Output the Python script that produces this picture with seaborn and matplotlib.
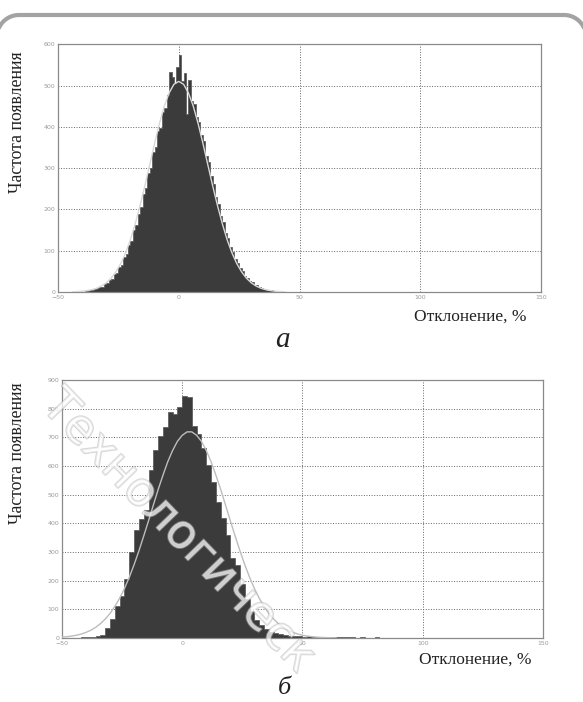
import numpy as np
import pandas as pd
import matplotlib
matplotlib.use('Agg')
import matplotlib.pyplot as plt
import matplotlib.patheffects as pe
import seaborn as sns

# --- dati ---
# grafico a: istogramma con classi di 1 %, da -45 a 50
top_edges = list(range(-45, 51, 1))
top_counts = [0, 0, 1, 0, 2, 1, 3, 2, 6, 4,
              8, 9, 13, 12, 19, 21, 30, 31, 44, 47,
              60, 66, 84, 92, 113, 124, 150, 162, 190, 205,
              238, 252, 287, 301, 340, 352, 390, 398, 436, 446,
              478, 533, 520, 505, 545, 575, 512, 530, 432, 513,
              462, 455, 425, 412, 380, 365, 330, 315, 280, 262,
              230, 214, 184, 170, 143, 130, 108, 97, 79, 70,
              57, 50, 40, 35, 26, 24, 17, 16, 11, 10,
              7, 6, 4, 4, 2, 3, 1, 2, 0, 1,
              0, 1, 0, 0, 0]
top_curve_x = list(range(-44, 46, 2))
top_curve_y = [0.6, 1.1, 2.0, 3.4, 5.7, 9.2, 14.5, 22.4, 33.6, 49,
               69, 95, 127, 166, 210, 258, 309, 360, 408, 450,
               482, 503, 510, 503, 482, 450, 408, 360, 309, 258,
               210, 166, 127, 95, 69, 49, 33.6, 22.4, 14.5, 9.2,
               5.7, 3.4, 2.0, 1.1, 0.6]

# grafico б: classi di 2 %, da -50 a 150
bot_edges = list(range(-50, 152, 2))
bot_counts = [0, 0, 0, 1, 2, 3, 5, 7, 12, 35,
              66, 110, 145, 205, 300, 375, 415, 445, 585, 655,
              705, 735, 790, 780, 805, 843, 840, 738, 710, 663,
              605, 545, 475, 418, 360, 280, 255, 190, 135, 95,
              62, 45, 30, 22, 16, 13, 10, 8, 7, 6,
              5, 6, 4, 5, 3, 4, 3, 2, 3, 2,
              2, 1, 2, 1, 1, 2, 1, 0, 1, 1,
              0, 1, 1, 0, 1, 0, 1, 0, 1, 0,
              1, 0, 0, 1, 0, 1, 0, 0, 1, 0,
              0, 1, 0, 0, 0, 1, 0, 0, 0, 0]
bot_curve_x = list(range(-50, 66, 2))
bot_curve_y = [3.0, 4.5, 6.6, 9.6, 13.8, 19.5, 27, 37, 50, 66,
               86, 110, 139, 173, 212, 256, 304, 356, 409, 464,
               518, 568, 615, 654, 686, 707, 719, 719, 707, 686,
               654, 615, 568, 518, 464, 409, 356, 304, 256, 212,
               173, 139, 110, 86, 66, 50, 37, 27, 19.5, 14, 9.6,
               6.6, 4.5, 3.0, 2.0, 1.3, 0.8, 0.5]

x_ticks = [-50, 0, 50, 100, 150]
top_yticks = [0, 100, 200, 300, 400, 500, 600]
bot_yticks = [0, 100, 200, 300, 400, 500, 600, 700, 800, 900]

ylabel = 'Частота появления'
xlabel = 'Отклонение, %'

bar_color = '#3b3b3b'
serif = ['Liberation Serif', 'DejaVu Serif']


def draw_panel(ax, edges, counts, cx, cy, yticks, curve_color):
    e = np.array(edges, dtype=float)
    df = pd.DataFrame({'centro': (e[:-1] + e[1:]) / 2, 'conteggio': counts})
    sns.histplot(data=df, x='centro', weights='conteggio', bins=edges,
                 element='step', fill=True, color=bar_color, alpha=1,
                 linewidth=0.5, edgecolor='#555555', ax=ax, zorder=2)
    sns.lineplot(x=cx, y=cy, color=curve_color, linewidth=1.0, ax=ax, zorder=3)
    ax.set_xlim(-50, 150)
    ax.set_ylim(0, yticks[-1])
    ax.set_xticks(x_ticks)
    ax.set_yticks(yticks)
    ax.set_xlabel('')
    ax.set_ylabel('')
    ax.grid(True, linestyle=':', color='#666666', linewidth=0.7, zorder=0)
    ax.set_axisbelow(True)
    ax.tick_params(length=0, labelsize=4.5, labelcolor='#9a9a9a', pad=2)
    for s in ax.spines.values():
        s.set_color('#8a8a8a')
        s.set_linewidth(0.9)


fig = plt.figure(figsize=(5.83, 7.02), dpi=100)

# cornice arrotondata (solo il bordo superiore è visibile)
deco = fig.add_axes([0, 0, 1, 1])
deco.set_xlim(0, 583)
deco.set_ylim(702, 0)
deco.axis('off')
r = 22
t = np.linspace(0, np.pi / 2, 30)
left_x, right_x, top_y = -3, 586, 15
fx = np.concatenate([[left_x], left_x + r - r * np.cos(t),
                     right_x - r + r * np.sin(t), [right_x]])
fy = np.concatenate([[702], top_y + r - r * np.sin(t),
                     top_y + r - r * np.cos(t), [702]])
deco.plot(fx, fy, color='#a3a3a3', linewidth=3, solid_capstyle='round')

ax1 = fig.add_axes([0.0995, 0.584, 0.8285, 0.353])
ax2 = fig.add_axes([0.1063, 0.0912, 0.825, 0.3675])

draw_panel(ax1, top_edges, top_counts, top_curve_x, top_curve_y, top_yticks, '#d8d8d8')
draw_panel(ax2, bot_edges, bot_counts, bot_curve_x, bot_curve_y, bot_yticks, '#bdbdbd')

# etichette degli assi
fig.text(18 / 583, 1 - 122 / 702, ylabel, rotation=90, ha='center', va='center',
         fontsize=12.8, family=serif, color='#222222')
fig.text(18 / 583, 1 - 453 / 702, ylabel, rotation=90, ha='center', va='center',
         fontsize=12.8, family=serif, color='#222222')
fig.text(470 / 583, 1 - 317 / 702, xlabel, ha='center', va='center',
         fontsize=12.5, family=serif, color='#222222')
fig.text(475 / 583, 1 - 660 / 702, xlabel, ha='center', va='center',
         fontsize=12.5, family=serif, color='#222222')

# lettere dei pannelli
fig.text(282 / 583, 1 - 347 / 702, 'а', ha='center', va='baseline',
         fontsize=21, style='italic', family=serif, color='#222222')
fig.text(284 / 583, 1 - 694 / 702, 'б', ha='center', va='baseline',
         fontsize=19, style='italic', family=serif, color='#222222')

# filigrana diagonale
fig.text(178 / 583, 1 - 532 / 702, 'Технологическ', rotation=-46,
         ha='center', va='center', fontsize=34, family=['DejaVu Sans'],
         color='white', alpha=0.5,
         path_effects=[pe.withStroke(linewidth=1.4, foreground='#b0b0b0')])

fig.savefig('out.png', dpi=100)
